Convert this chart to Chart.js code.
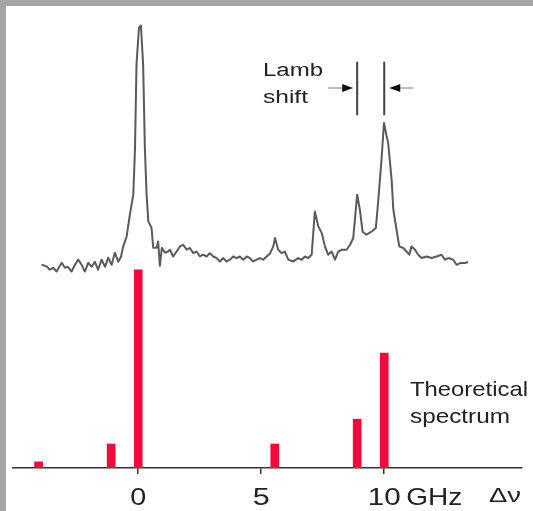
<!DOCTYPE html>
<html>
<head>
<meta charset="utf-8">
<script src="https://cdn.jsdelivr.net/npm/chart.js@4.4.1/dist/chart.umd.min.js"></script>
<style>
  body { margin: 0; background: #ffffff; }
  canvas { display: block; }
</style>
</head>
<body>
<canvas id="spectrumCanvas" width="533" height="511"></canvas>
<script>
// Measured spectrum (frequency offset in GHz, relative intensity)
let measuredGHz = [
    -3.93, -3.72, -3.59, -3.46, -3.32, -3.11, -2.98, -2.86, -2.71, -2.57,
    -2.44, -2.30, -2.17, -2.03, -1.89, -1.76, -1.63, -1.49, -1.35, -1.22,
    -1.08, -0.95, -0.81, -0.70, -0.61, -0.47, -0.34, -0.20, -0.13, -0.07,
    0.03, 0.11, 0.20, 0.27, 0.34, 0.41, 0.54, 0.61, 0.75, 0.81,
    0.88, 0.96, 1.09, 1.21, 1.29, 1.42, 1.56, 1.70, 1.83, 1.97,
    2.10, 2.24, 2.37, 2.51, 2.64, 2.78, 2.91, 3.05, 3.19, 3.32,
    3.46, 3.59, 3.73, 3.86, 4.00, 4.13, 4.27, 4.41, 4.54, 4.67,
    4.81, 4.95, 5.08, 5.22, 5.35, 5.49, 5.56, 5.69, 5.83, 5.96,
    6.10, 6.30, 6.50, 6.64, 6.78, 6.91, 7.05, 7.18, 7.32, 7.46,
    7.59, 7.72, 7.86, 8.00, 8.13, 8.27, 8.47, 8.61, 8.74, 8.90,
    9.01, 9.12, 9.28, 9.49, 9.66, 9.76, 9.89, 9.99, 10.10, 10.16,
    10.30, 10.37, 10.50, 10.61, 10.77, 10.91, 11.02, 11.11, 11.25, 11.38,
    11.52, 11.72, 11.93, 12.13, 12.33, 12.47, 12.60, 12.80, 12.94, 13.08,
    13.28, 13.41
];
let measuredLevel = [
    102.5, 101.7, 100.0, 101.0, 99.1, 103.5, 101.0, 101.5, 99.1, 102.5,
    105.1, 102.5, 99.1, 103.5, 101.5, 104.0, 100.0, 105.1, 101.5, 106.1,
    102.5, 108.6, 104.0, 106.6, 111.8, 116.8, 127.8, 137.9, 161.6, 203.5,
    222.2, 223.2, 203.5, 161.6, 137.9, 124.4, 121.2, 111.1, 111.1, 114.3,
    102.0, 111.1, 108.6, 109.2, 110.1, 106.7, 109.2, 111.8, 112.6, 110.1,
    111.0, 108.4, 109.2, 106.7, 107.6, 106.7, 108.4, 106.7, 105.9, 104.2,
    105.9, 104.2, 105.1, 106.7, 105.9, 106.7, 105.1, 106.7, 105.9, 104.2,
    105.1, 105.9, 105.1, 106.7, 108.1, 111.8, 116.0, 110.1, 108.4, 109.2,
    105.1, 104.2, 105.9, 105.1, 106.7, 105.9, 107.6, 129.4, 121.9, 118.5,
    111.8, 107.6, 109.2, 105.1, 109.2, 110.1, 110.1, 112.6, 116.0, 137.9,
    130.3, 119.2, 117.7, 119.3, 121.1, 135.4, 155.6, 174.1, 167.3, 164.0,
    145.5, 130.3, 120.2, 111.8, 111.0, 109.2, 107.6, 111.8, 110.1, 107.6,
    105.9, 106.7, 105.9, 106.7, 107.6, 105.1, 105.9, 105.1, 102.5, 103.4,
    103.4, 103.9
];

// Theoretical spectrum lines
let theoryGHz = [-4.05, -1.1, 0, 5.55, 8.9, 10.0];
let theoryLevel = [3.1, 12.1, 100, 12.1, 24.6, 58.0];

// Axis ticks
let tickValues = [0, 5, 10];
let tickLabels = ["0", "5", "10"];

// Lamb shift marker: the two peaks it spans
let lambPeaks = [8.9, 10.0];

let fontFamily = '"Liberation Sans", Arial, Helvetica, sans-serif';

// the scanned figure has wide lettering, so squeeze text into a measured width
let stretchText = function(ctx, text, x, y, size, width) {
    ctx.font = size + "px " + fontFamily;
    let w = ctx.measureText(text).width;
    ctx.save();
    ctx.translate(x, y);
    ctx.scale(width / w, 1);
    ctx.fillText(text, 0, 0);
    ctx.restore();
}

let figurePlugin = {
    id: 'figureDecor',
    beforeDraw: function(chart) {
        let ctx = chart.ctx;
        ctx.save();
        ctx.fillStyle = "#a5a5a5";
        ctx.fillRect(0, 0, chart.width, 6);
        ctx.fillRect(0, 0, 6, chart.height);
        ctx.restore();
    },
    afterDraw: function(chart) {
        let ctx = chart.ctx;
        let xs = chart.scales.x;
        let ys = chart.scales.y;
        ctx.save();
        ctx.fillStyle = "#222222";
        ctx.textBaseline = "alphabetic";

        // tick labels
        let widths = [16, 17, 33];
        for (let i in tickValues) {
            let px = xs.getPixelForValue(tickValues[i]);
            stretchText(ctx, tickLabels[i], px - widths[i] / 2, 505, 24, widths[i]);
        }
        stretchText(ctx, "GHz", xs.getPixelForValue(10) + 22, 505, 24, 56);
        stretchText(ctx, "\u0394\u03bd", 489, 502, 20, 32);

        // labels
        stretchText(ctx, "Lamb", 263, 76, 18, 60);
        stretchText(ctx, "shift", 263, 103, 18, 45);
        stretchText(ctx, "Theoretical", 410, 395.5, 21, 118);
        stretchText(ctx, "spectrum", 410, 423, 21, 100);

        // Lamb shift bars and arrows
        let left = xs.getPixelForValue(lambPeaks[0]);
        let right = xs.getPixelForValue(lambPeaks[1]);
        let top = ys.getPixelForValue(205);
        let bottom = ys.getPixelForValue(178);
        ctx.strokeStyle = "#444444";
        ctx.lineWidth = 2;
        ctx.beginPath();
        ctx.moveTo(left, top);
        ctx.lineTo(left, bottom);
        ctx.moveTo(right, top);
        ctx.lineTo(right, bottom);
        ctx.stroke();

        let ay = 88;
        ctx.lineWidth = 1;
        ctx.strokeStyle = "#777777";
        ctx.beginPath();
        ctx.moveTo(left - 29, ay);
        ctx.lineTo(left - 10, ay);
        ctx.moveTo(right + 16, ay);
        ctx.lineTo(right + 29, ay);
        ctx.stroke();
        ctx.fillStyle = "#111111";
        ctx.beginPath();
        ctx.moveTo(left - 4, ay);
        ctx.lineTo(left - 15, ay - 4);
        ctx.lineTo(left - 15, ay + 4);
        ctx.closePath();
        ctx.moveTo(right + 5, ay);
        ctx.lineTo(right + 16, ay - 4);
        ctx.lineTo(right + 16, ay + 4);
        ctx.closePath();
        ctx.fill();
        ctx.restore();
    }
}

let createSpectrumChart = function() {
    const ctx = document.getElementById('spectrumCanvas');

    let measured = measuredGHz.map((f, i) => ({x: f, y: measuredLevel[i]}));
    let theory = theoryGHz.map((f, i) => ({x: f, y: theoryLevel[i]}));

    return new Chart(ctx, {
        type: 'bar',
        data: {
            datasets: [{
                type: 'line',
                label: "Measured spectrum",
                data: measured,
                borderColor: "#5a5a5a",
                borderWidth: 2,
                pointRadius: 0,
                tension: 0,
                borderJoinStyle: 'round',
            }, {
                type: 'bar',
                label: "Theoretical spectrum",
                data: theory,
                backgroundColor: "#f5083c",
                barThickness: 8,
                borderWidth: 0,
            }]
        },
        options: {
            responsive: false,
            devicePixelRatio: 1,
            animation: false,
            layout: {
                padding: { left: 13, right: 11, top: 20, bottom: 0 }
            },
            scales: {
                x: {
                    type: 'linear',
                    min: -5.09,
                    max: 15.6,
                    offset: false,
                    afterBuildTicks: function(scale) {
                        scale.ticks = tickValues.map(v => ({value: v}));
                    },
                    afterFit: function(scale) {
                        scale.height = 43;
                    },
                    ticks: { display: false },
                    grid: {
                        display: true,
                        offset: false,
                        drawOnChartArea: false,
                        drawTicks: true,
                        tickLength: 6,
                        color: "#333333",
                        lineWidth: 1.5,
                    },
                    border: { display: true, color: "#333333", width: 1.5 }
                },
                y: {
                    display: false,
                    min: 0,
                    max: 226,
                }
            },
            plugins: {
                legend: { display: false },
                tooltip: { enabled: false },
            }
        },
        plugins: [figurePlugin]
    });
}

window.onload = createSpectrumChart;
</script>
</body>
</html>
